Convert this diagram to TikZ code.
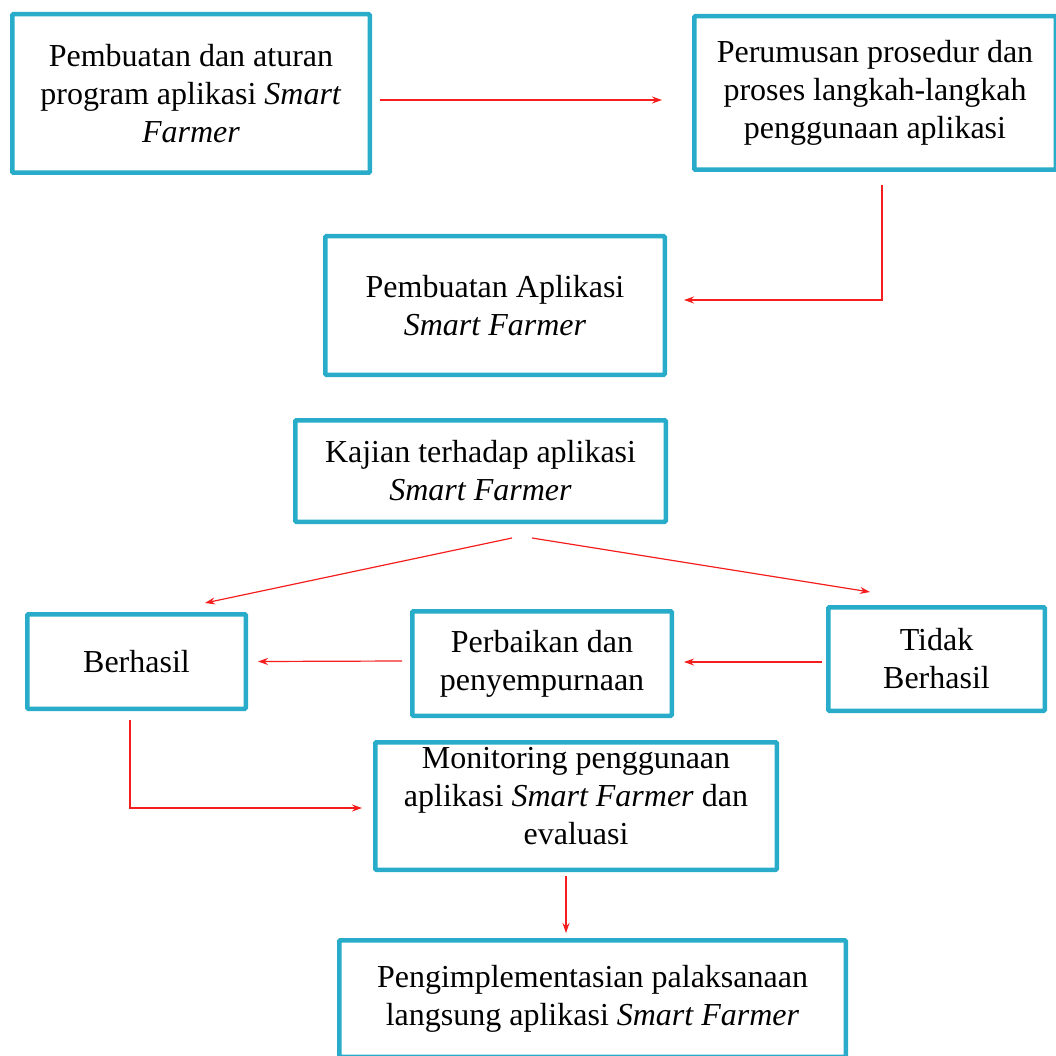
\documentclass[tikz,border=0pt]{standalone}
\usepackage{fontspec}
\setmainfont{Liberation Serif}
\usetikzlibrary{arrows.meta,calc}
\definecolor{boxcyan}{RGB}{40,172,202}
\definecolor{flowred}{RGB}{245,30,30}

\begin{document}
\begin{tikzpicture}[x=1pt,y=-1pt,
  stepbox/.style={draw=boxcyan,line width=4.5pt,rounded corners=1pt,inner sep=0pt,align=center,font=\fontsize{32}{38}\selectfont},
  flow/.style={draw=flowred,line width=1.2pt,-{Stealth[length=10pt,width=7pt]}}]
\useasboundingbox (0,0) rectangle (1055,1056);
\node[stepbox,minimum width=357.5pt,minimum height=158.5pt] (aturan) at (191,93.5) {Pembuatan dan aturan\\program aplikasi \textit{Smart}\\\textit{Farmer}};
\node[stepbox,minimum width=361.5pt,minimum height=153.5pt] (prosedur) at (875,93) {Perumusan prosedur dan\\proses langkah-langkah\\penggunaan aplikasi};
\node[stepbox,minimum width=339.5pt,minimum height=138.5pt] (buat) at (495,305.5) {Pembuatan Aplikasi\\\textit{Smart Farmer}};
\node[stepbox,minimum width=370.5pt,minimum height=101.5pt] (kajian) at (480.5,471) {Kajian terhadap aplikasi\\\textit{Smart Farmer}};
\node[stepbox,minimum width=218.5pt,minimum height=94.5pt] (berhasil) at (136.5,661.5) {Berhasil};
\node[stepbox,minimum width=259.5pt,minimum height=104.5pt] (perbaikan) at (542,663.5) {Perbaikan dan\\penyempurnaan};
\node[stepbox,minimum width=216.5pt,minimum height=103.5pt] (gagal) at (936.5,659) {Tidak\\Berhasil};
\node[stepbox,minimum width=401.5pt,minimum height=127.5pt,text depth=20pt] (monitor) at (576,806) {Monitoring penggunaan\\aplikasi \textit{Smart Farmer} dan\\evaluasi};
\node[stepbox,minimum width=506.5pt,minimum height=116.5pt] (implement) at (592.5,998.5) {Pengimplementasian palaksanaan\\langsung aplikasi \textit{Smart Farmer}};

\draw[flow] ($(aturan.east)+(8,6.5)$) -- ($(aturan.east -| prosedur.west)+(-30,6.5)$);
\draw[flow] ($(prosedur.south)+(7,13)$) |- ($(buat.east)+(17,-5.5)$);
\draw[flow] ($(kajian.south)+(31.5,14)$) -- ($(berhasil.north)+(68.5,-9)$);
\draw[flow] ($(kajian.south)+(51.5,14)$) -- ($(gagal.north)+(-66.5,-13)$);
\draw[flow] ($(gagal.west)+(-4,3)$) -- ($(perbaikan.east)+(10,-1.5)$);
\draw[flow] ($(perbaikan.west)+(-8,-2.5)$) -- ($(berhasil.east)+(10,0)$);
\draw[flow] ($(berhasil.south)+(-6.5,9)$) |- ($(monitor.west)+(-11,2)$);
\draw[flow] ($(monitor.south)+(-10,4)$) -- ($(implement.north)+(-26.5,-5)$);
\end{tikzpicture}
\end{document}
